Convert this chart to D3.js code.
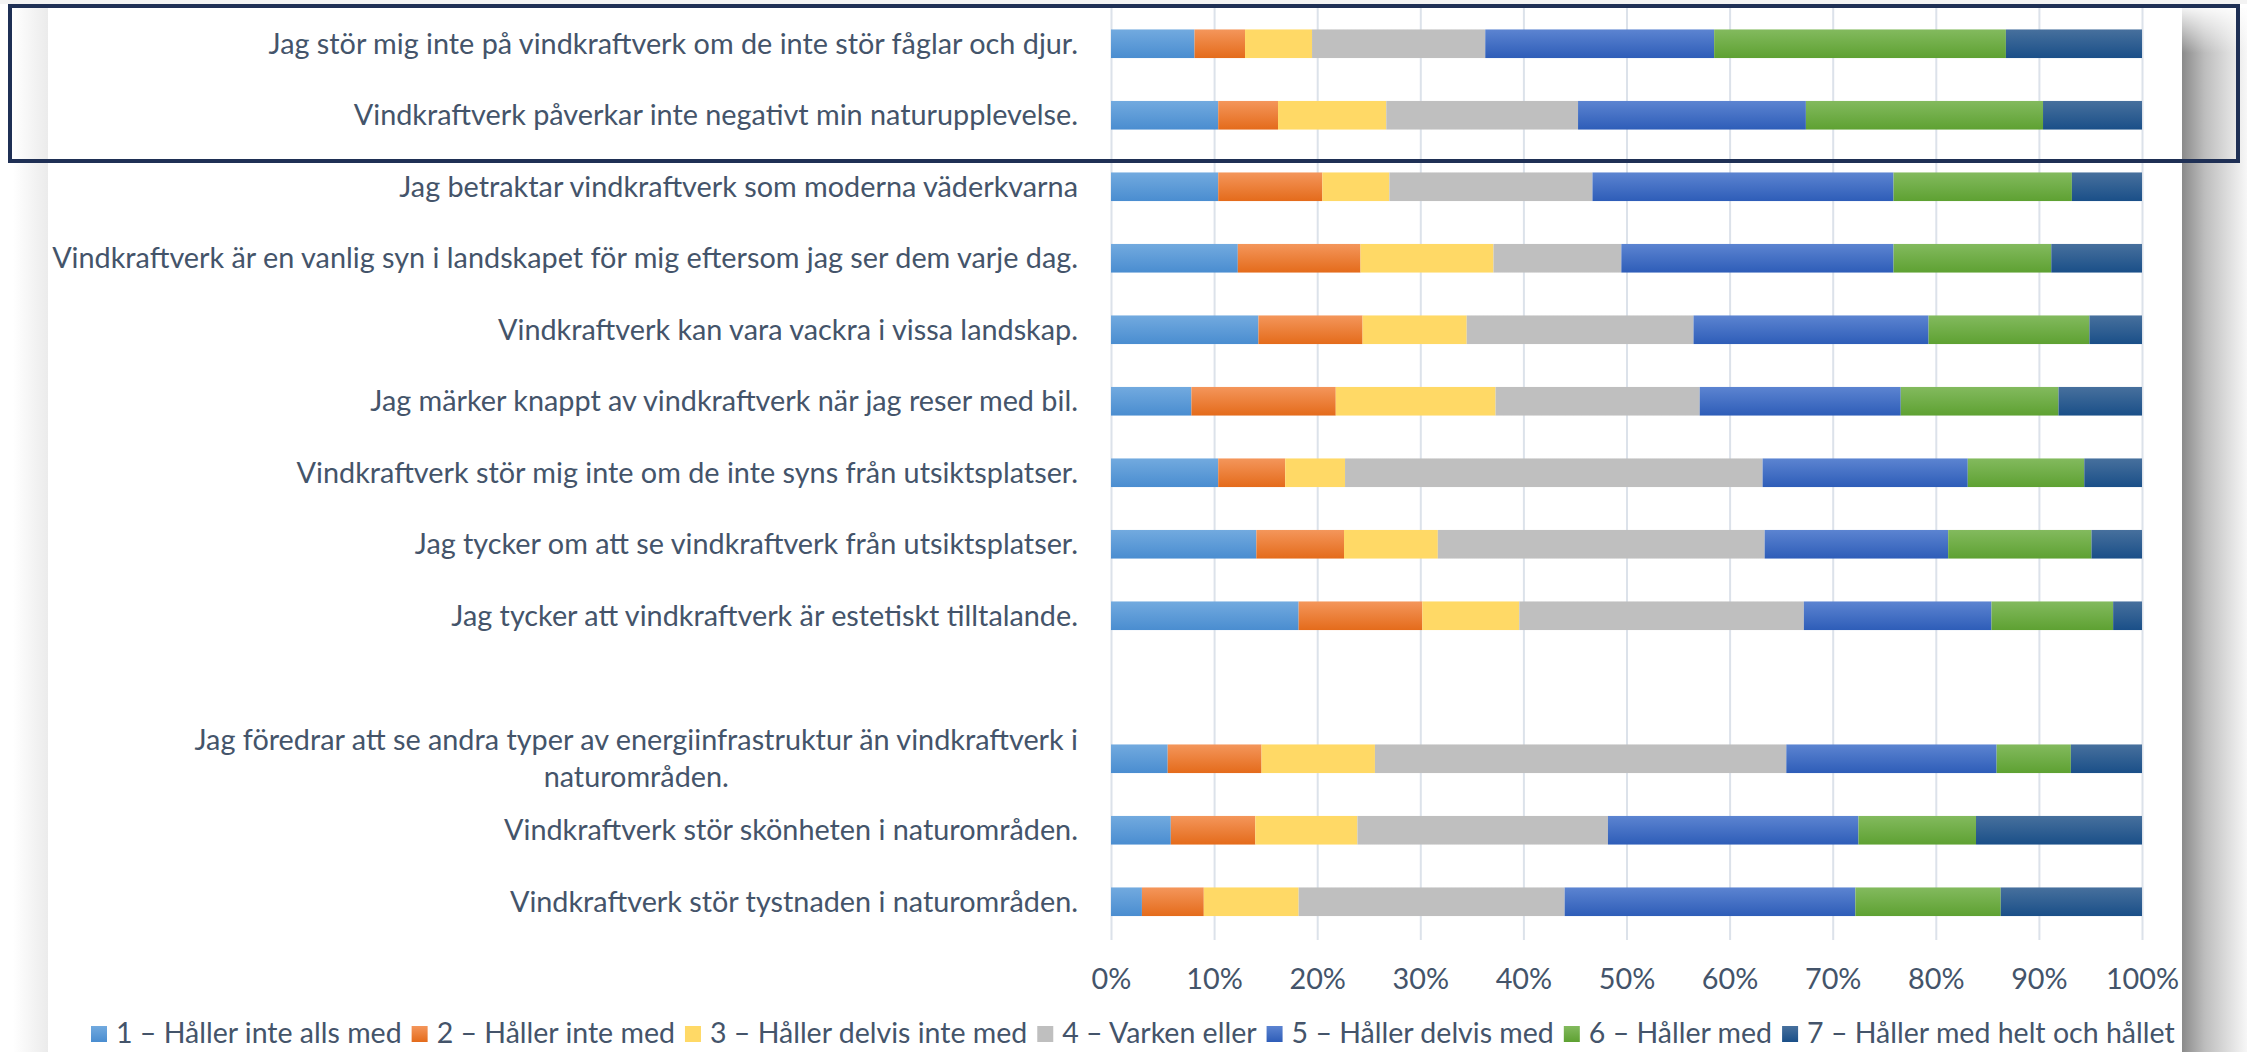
<!DOCTYPE html>
<html>
<head>
<meta charset="utf-8">
<script src="https://cdn.jsdelivr.net/npm/d3@7"></script>
<style>
  body{margin:0;background:#fff;overflow:hidden;}
  text{font-family:Lato,"Liberation Sans",sans-serif;fill:#44546A;}
</style>
</head>
<body>
<script>

var screenW=2247, screenH=1052;

//chart data
var categories=[
    "Jag stör mig inte på vindkraftverk om de inte stör fåglar och djur.",
    "Vindkraftverk påverkar inte negativt min naturupplevelse.",
    "Jag betraktar vindkraftverk som moderna väderkvarna",
    "Vindkraftverk är en vanlig syn i landskapet för mig eftersom jag ser dem varje dag.",
    "Vindkraftverk kan vara vackra i vissa landskap.",
    "Jag märker knappt av vindkraftverk när jag reser med bil.",
    "Vindkraftverk stör mig inte om de inte syns från utsiktsplatser.",
    "Jag tycker om att se vindkraftverk från utsiktsplatser.",
    "Jag tycker att vindkraftverk är estetiskt tilltalande.",
    "",
    "Jag föredrar att se andra typer av energiinfrastruktur än vindkraftverk i\nnaturområden.",
    "Vindkraftverk stör skönheten i naturområden.",
    "Vindkraftverk stör tystnaden i naturområden."
];

var seriesNames=[
    "1 – Håller inte alls med",
    "2 – Håller inte med",
    "3 – Håller delvis inte med",
    "4 – Varken eller",
    "5 – Håller delvis med",
    "6 – Håller med",
    "7 – Håller med helt och hållet"
];

var s1=[8.1,10.4,10.4,12.3,14.3,7.8,10.4,14.1,18.2,null,5.5,5.8,3.0];
var s2=[4.9,5.8,10.1,11.9,10.1,14.0,6.5,8.5,12.0,null,9.1,8.2,6.0];
var s3=[6.5,10.5,6.5,12.9,10.1,15.5,5.8,9.1,9.4,null,11.0,9.9,9.2];
var s4=[16.8,18.6,19.7,12.4,22.0,19.8,40.5,31.7,27.6,null,39.9,24.3,25.8];
var s5=[22.2,22.1,29.2,26.4,22.8,19.5,19.9,17.8,18.2,null,20.4,24.3,28.2];
var s6=[28.3,23.0,17.3,15.3,15.6,15.3,11.3,13.9,11.8,null,7.2,11.4,14.1];
var s7=[13.2,9.6,6.8,8.8,5.1,8.1,5.6,4.9,2.8,null,6.9,16.1,13.7];

var tickValues=[0,10,20,30,40,50,60,70,80,90,100];

//top / bottom colour of each series
var colorsTop=["#72aadf","#f4965b","#ffd966","#bfbfbf","#5c84d1","#83ba5e","#47709d"];
var colorsBottom=["#4a8dd0","#e46b1b","#ffd966","#bfbfbf","#2e5db8","#5ea132","#1a4f88"];

var seriesValues=[s1,s2,s3,s4,s5,s6,s7];
var keys=seriesNames.map(function(d,i){return "s"+i;});

var rows=categories.map(function(c,i){
    var r={idx:i};
    seriesValues.forEach(function(s,j){ r["s"+j]=s[i]==null?0:s[i]; });
    return r;
});

var svg=d3.select("body").append("svg")
                .attr("width",screenW)
                .attr("height",screenH);

var defs=svg.append("defs");

colorsTop.forEach(function(c,i){
    var g=defs.append("linearGradient")
                .attr("id","grad"+i)
                .attr("x1",0).attr("y1",0)
                .attr("x2",0).attr("y2",1);
    g.append("stop").attr("offset","0%").attr("stop-color",c);
    g.append("stop").attr("offset","100%").attr("stop-color",colorsBottom[i]);
});

//page shadows
var gl=defs.append("linearGradient").attr("id","leftShade")
                .attr("x1",0).attr("x2",1).attr("y1",0).attr("y2",0);
gl.append("stop").attr("offset","0%").attr("stop-color","#ffffff");
gl.append("stop").attr("offset","100%").attr("stop-color","#ebebeb");

var gr=defs.append("linearGradient").attr("id","rightShade")
                .attr("x1",0).attr("x2",1).attr("y1",0).attr("y2",0);
gr.append("stop").attr("offset","0%").attr("stop-color","#8a8a8a");
gr.append("stop").attr("offset","35%").attr("stop-color","#bdbdbd");
gr.append("stop").attr("offset","100%").attr("stop-color","#f7f7f7");

var gt=defs.append("linearGradient").attr("id","topFade")
                .attr("x1",0).attr("x2",0).attr("y1",0).attr("y2",1);
gt.append("stop").attr("offset","0%").attr("stop-color","#ffffff").attr("stop-opacity",0.9);
gt.append("stop").attr("offset","100%").attr("stop-color","#ffffff").attr("stop-opacity",0);

svg.append("rect")
        .attr("x",0).attr("y",0)
        .attr("width",screenW).attr("height",4)
        .attr("fill","#f3f3f3");
svg.append("rect")
        .attr("x",13).attr("y",4)
        .attr("width",35).attr("height",screenH-4)
        .attr("fill","url(#leftShade)");
svg.append("rect")
        .attr("x",2182).attr("y",8)
        .attr("width",screenW-2182).attr("height",screenH-8)
        .attr("fill","url(#rightShade)");
svg.append("rect")
        .attr("x",2182).attr("y",8)
        .attr("width",screenW-2182).attr("height",45)
        .attr("fill","url(#topFade)");

//scales
var x=d3.scaleLinear()
            .domain([0,100])
            .range([1111,2142]);

var y=d3.scaleBand()
            .domain(d3.range(categories.length))
            .range([8,937.5])
            .paddingInner(0.6)
            .paddingOuter(0.3);

//gridlines
var grid=svg.append("g")
            .attr("class","grid")
            .attr("transform","translate(0,940)")
            .call(d3.axisBottom(x).tickValues(tickValues).tickSize(-932).tickFormat(""));
grid.select(".domain").remove();
grid.selectAll("line")
        .attr("stroke","#dce2ea")
        .attr("stroke-width",2);

//bars
var stack=d3.stack().keys(keys);
var stacked=stack(rows);

var barGroup=svg.append("g").attr("class","bars");

barGroup.selectAll("g")
        .data(stacked)
        .enter().append("g")
        .attr("fill",function(d,i){return "url(#grad"+i+")";})
        .selectAll("rect")
        .data(function(d){return d.filter(function(p){return categories[p.data.idx]!=="";});})
        .enter().append("rect")
        .attr("x",function(d){return x(d[0]);})
        .attr("y",function(d){return y(d.data.idx);})
        .attr("width",function(d){return x(d[1])-x(d[0]);})
        .attr("height",y.bandwidth());

//category labels
var fontSize=25;
var labelRight=1078;

var labelGroup=svg.append("g").attr("class","labels");

var labels=labelGroup.selectAll("text")
        .data(categories.map(function(c,i){return {idx:i,lines:c.split("\n")};})
                        .filter(function(d){return d.lines[0]!=="";}))
        .enter().append("text")
        .style("font-size",fontSize+"px")
        .attr("text-anchor","end")
        .attr("x",labelRight)
        .attr("y",function(d){return y(d.idx)+y.bandwidth()/2;})
        .attr("dy","0.35em")
        .text(function(d){return d.lines.length==1?d.lines[0]:"";});

//fit font size on the widest label
var widest=0;
labels.each(function(d){
    if(d.lines.length==1) widest=Math.max(widest,this.getComputedTextLength());
});
fontSize=fontSize*1026/widest;
labels.style("font-size",fontSize+"px");

//the wrapped label
labels.filter(function(d){return d.lines.length>1;})
        .each(function(d){
            var t=d3.select(this);
            var cy=y(d.idx)+y.bandwidth()/2;
            var spans=d.lines.map(function(l,k){
                return t.append("tspan")
                        .attr("y",cy+(k-(d.lines.length-1)/2)*37)
                        .attr("dy","0.35em")
                        .text(l);
            });
            var w=d3.max(spans,function(s){return s.node().getComputedTextLength();});
            t.attr("text-anchor","middle");
            spans.forEach(function(s){s.attr("x",labelRight-w/2);});
        });

//tick labels
var ticks=svg.append("g")
            .attr("class","ticks")
            .attr("transform","translate(0,969)")
            .call(d3.axisBottom(x).tickValues(tickValues).tickSize(0).tickPadding(0)
                    .tickFormat(function(d){return d+"%";}));
ticks.select(".domain").remove();
ticks.selectAll("text")
        .style("font-size",fontSize+"px")
        .style("fill","#44546A");
ticks.attr("font-family",null).attr("font-size",null);

//legend
var legendGroup=svg.append("g").attr("class","legend");
var sq=16, gapIn=9, gapOut=10;
var legendLeft=91, legendRight=2175;

var items=legendGroup.selectAll("g")
        .data(seriesNames)
        .enter().append("g");
items.append("rect")
        .attr("width",sq).attr("height",sq)
        .attr("y",1026)
        .attr("fill",function(d,i){return "url(#grad"+i+")";});
var legendText=items.append("text")
        .attr("x",sq+gapIn)
        .attr("y",1043)
        .style("font-size",fontSize+"px")
        .text(function(d){return d;});

//fit legend text into the reference span
var fixed=seriesNames.length*(sq+gapIn)+(seriesNames.length-1)*gapOut;
var textSum=0;
legendText.each(function(){textSum+=this.getComputedTextLength();});
var legendSize=fontSize*(legendRight-legendLeft-fixed)/textSum;
legendText.style("font-size",legendSize+"px");

var widths=[];
legendText.each(function(){widths.push(this.getComputedTextLength());});
items.attr("transform",function(d,i){
    var pos=legendLeft;
    for(var k=0;k<i;k++) pos+=sq+gapIn+widths[k]+gapOut;
    return "translate("+pos+",0)";
});

//highlight box
svg.append("rect")
        .attr("x",10).attr("y",6)
        .attr("width",2228).attr("height",155)
        .attr("fill","none")
        .attr("stroke","#1f3055")
        .attr("stroke-width",4);

</script>
</body>
</html>
